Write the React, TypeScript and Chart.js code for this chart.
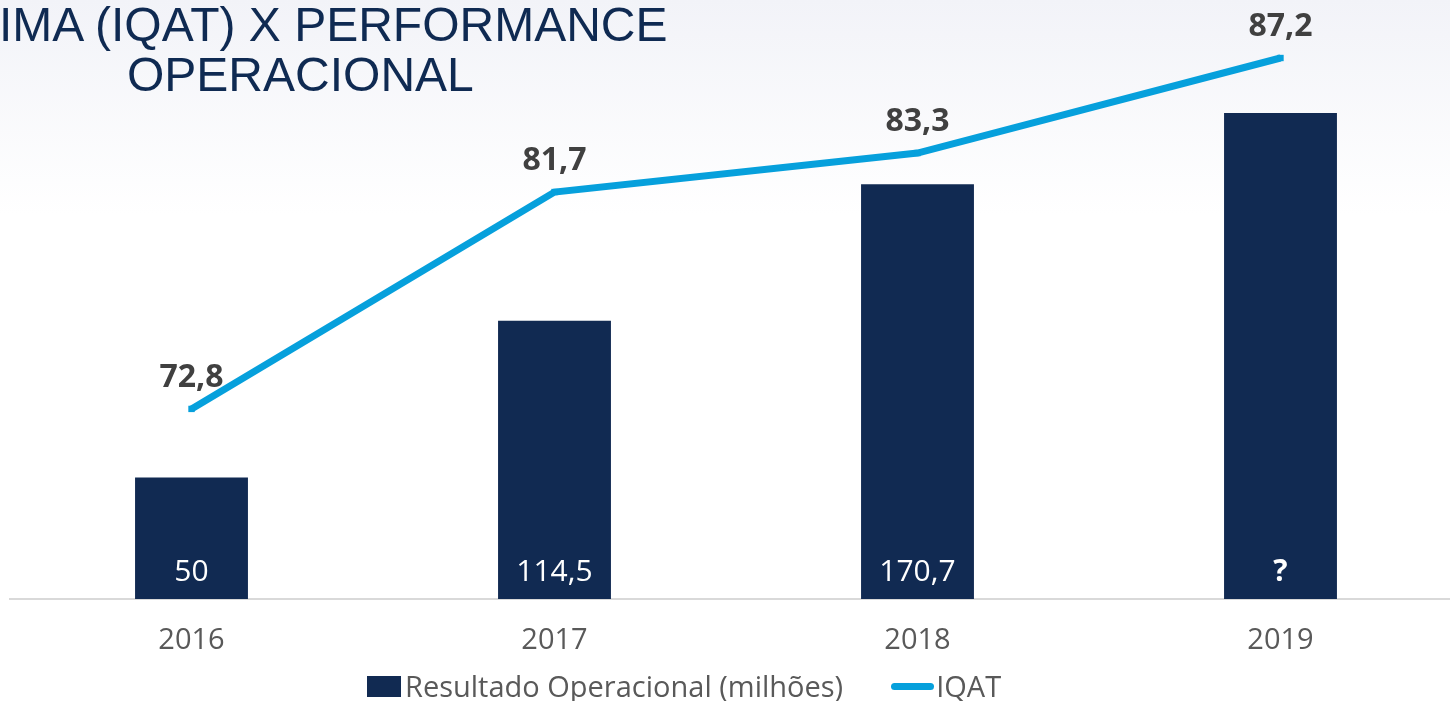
import React, { useEffect, useRef } from "react";
import { Chart, registerables } from "chart.js";

Chart.register(...registerables);

const years = ["2016", "2017", "2018", "2019"];
const resultado = [50, 114.5, 170.7, 200];
const resultadoLabels = ["50", "114,5", "170,7", "?"];
const iqat = [72.8, 81.7, 83.3, 87.2];
const iqatLabels = ["72,8", "81,7", "83,3", "87,2"];

const NAVY = "#112a52";
const BLUE = "#06a0dc";
const FONT = "'Open Sans', 'DejaVu Sans', sans-serif";

const bgPlugin = {
  id: "bgGradient",
  beforeDraw(chart: any) {
    const { ctx, width, height } = chart;
    ctx.save();
    ctx.fillStyle = "#ffffff";
    ctx.fillRect(0, 0, width, height);
    const g = ctx.createLinearGradient(0, 0, 0, 215);
    g.addColorStop(0, "#f2f3f8");
    g.addColorStop(1, "#ffffff");
    ctx.fillStyle = g;
    ctx.fillRect(0, 0, width, 215);
    ctx.restore();
  },
};

const labelPlugin = {
  id: "valueLabels",
  afterDatasetsDraw(chart: any) {
    const { ctx } = chart;
    ctx.save();
    ctx.textAlign = "center";
    ctx.textBaseline = "alphabetic";
    const barMeta = chart.getDatasetMeta(1);
    ctx.fillStyle = "#ffffff";
    barMeta.data.forEach((el: any, i: number) => {
      const label = resultadoLabels[i];
      ctx.font = label === "?" ? `700 30px ${FONT}` : `400 30px ${FONT}`;
      ctx.fillText(label, el.x, el.base - 18);
    });
    const lineMeta = chart.getDatasetMeta(0);
    ctx.fillStyle = "#404040";
    ctx.font = `700 32px ${FONT}`;
    lineMeta.data.forEach((el: any, i: number) => {
      ctx.fillText(iqatLabels[i], el.x, el.y - 22);
    });
    ctx.restore();
  },
};

export default function App() {
  const ref = useRef<HTMLCanvasElement | null>(null);

  useEffect(() => {
    if (!ref.current) return;
    const chart = new Chart(ref.current, {
      data: {
        labels: years,
        datasets: [
          {
            type: "line",
            label: "IQAT",
            data: iqat,
            yAxisID: "y2",
            borderColor: BLUE,
            backgroundColor: BLUE,
            borderWidth: 7,
            pointStyle: "rect",
            pointRadius: 4.5,
            pointBorderWidth: 0,
            pointBackgroundColor: BLUE,
            tension: 0,
            clip: false,
            order: 0,
          },
          {
            type: "bar",
            label: "Resultado Operacional (milhões)",
            data: resultado,
            yAxisID: "y",
            backgroundColor: NAVY,
            categoryPercentage: 1,
            barPercentage: 0.311,
            order: 1,
          },
        ],
      } as any,
      options: {
        responsive: false,
        animation: false,
        layout: { autoPadding: false, padding: { left: 10, right: 18, top: 0, bottom: 0 } },
        plugins: {
          legend: { display: false },
          tooltip: { enabled: false },
          title: { display: false },
        },
        scales: {
          x: {
            offset: true,
            grid: { display: false, drawTicks: false },
            border: { display: true, color: "#d9d9d9", width: 2 },
            ticks: {
              color: "#595959",
              font: { family: FONT, size: 29 },
              padding: 24,
            },
            afterFit(scale: any) {
              scale.height = 102;
            },
          },
          y: {
            display: false,
            min: 0,
            max: 246.5,
          },
          y2: {
            display: false,
            min: 65.0,
            max: 89.58,
          },
        },
      } as any,
      plugins: [bgPlugin, labelPlugin],
    });
    return () => chart.destroy();
  }, []);

  const legendText: React.CSSProperties = {
    fontFamily: FONT,
    fontSize: 29,
    color: "#595959",
    lineHeight: "30px",
    whiteSpace: "nowrap",
  };

  return (
    <div
      style={{
        position: "fixed",
        left: 0,
        top: 0,
        width: 1450,
        height: 701,
        overflow: "hidden",
        background: "#fff",
      }}
    >
      <canvas
        ref={ref}
        width={1480}
        height={701}
        style={{ position: "absolute", left: 0, top: 0, width: 1480, height: 701 }}
      />
      <div
        style={{
          position: "absolute",
          left: 0,
          top: 0,
          fontFamily: "'Liberation Sans', Arial, sans-serif",
          fontSize: 48,
          lineHeight: "50px",
          color: "#0f2a52",
          whiteSpace: "nowrap",
        }}
      >
        <div style={{ marginLeft: -1 }}>IMA (IQAT) X PERFORMANCE</div>
        <div style={{ marginLeft: 127 }}>OPERACIONAL</div>
      </div>
      <div
        style={{
          position: "absolute",
          left: 367,
          top: 671,
          display: "flex",
          alignItems: "center",
          height: 30,
        }}
      >
        <span style={{ display: "inline-block", width: 34, height: 21, background: NAVY, marginRight: 4 }} />
        <span style={legendText}>Resultado Operacional (milhões)</span>
        <span
          style={{
            display: "inline-block",
            position: "relative",
            width: 43,
            height: 7,
            borderRadius: 4,
            background: BLUE,
            marginLeft: 48,
            marginRight: 2,
          }}
        />
        <span style={legendText}>IQAT</span>
      </div>
    </div>
  );
}
